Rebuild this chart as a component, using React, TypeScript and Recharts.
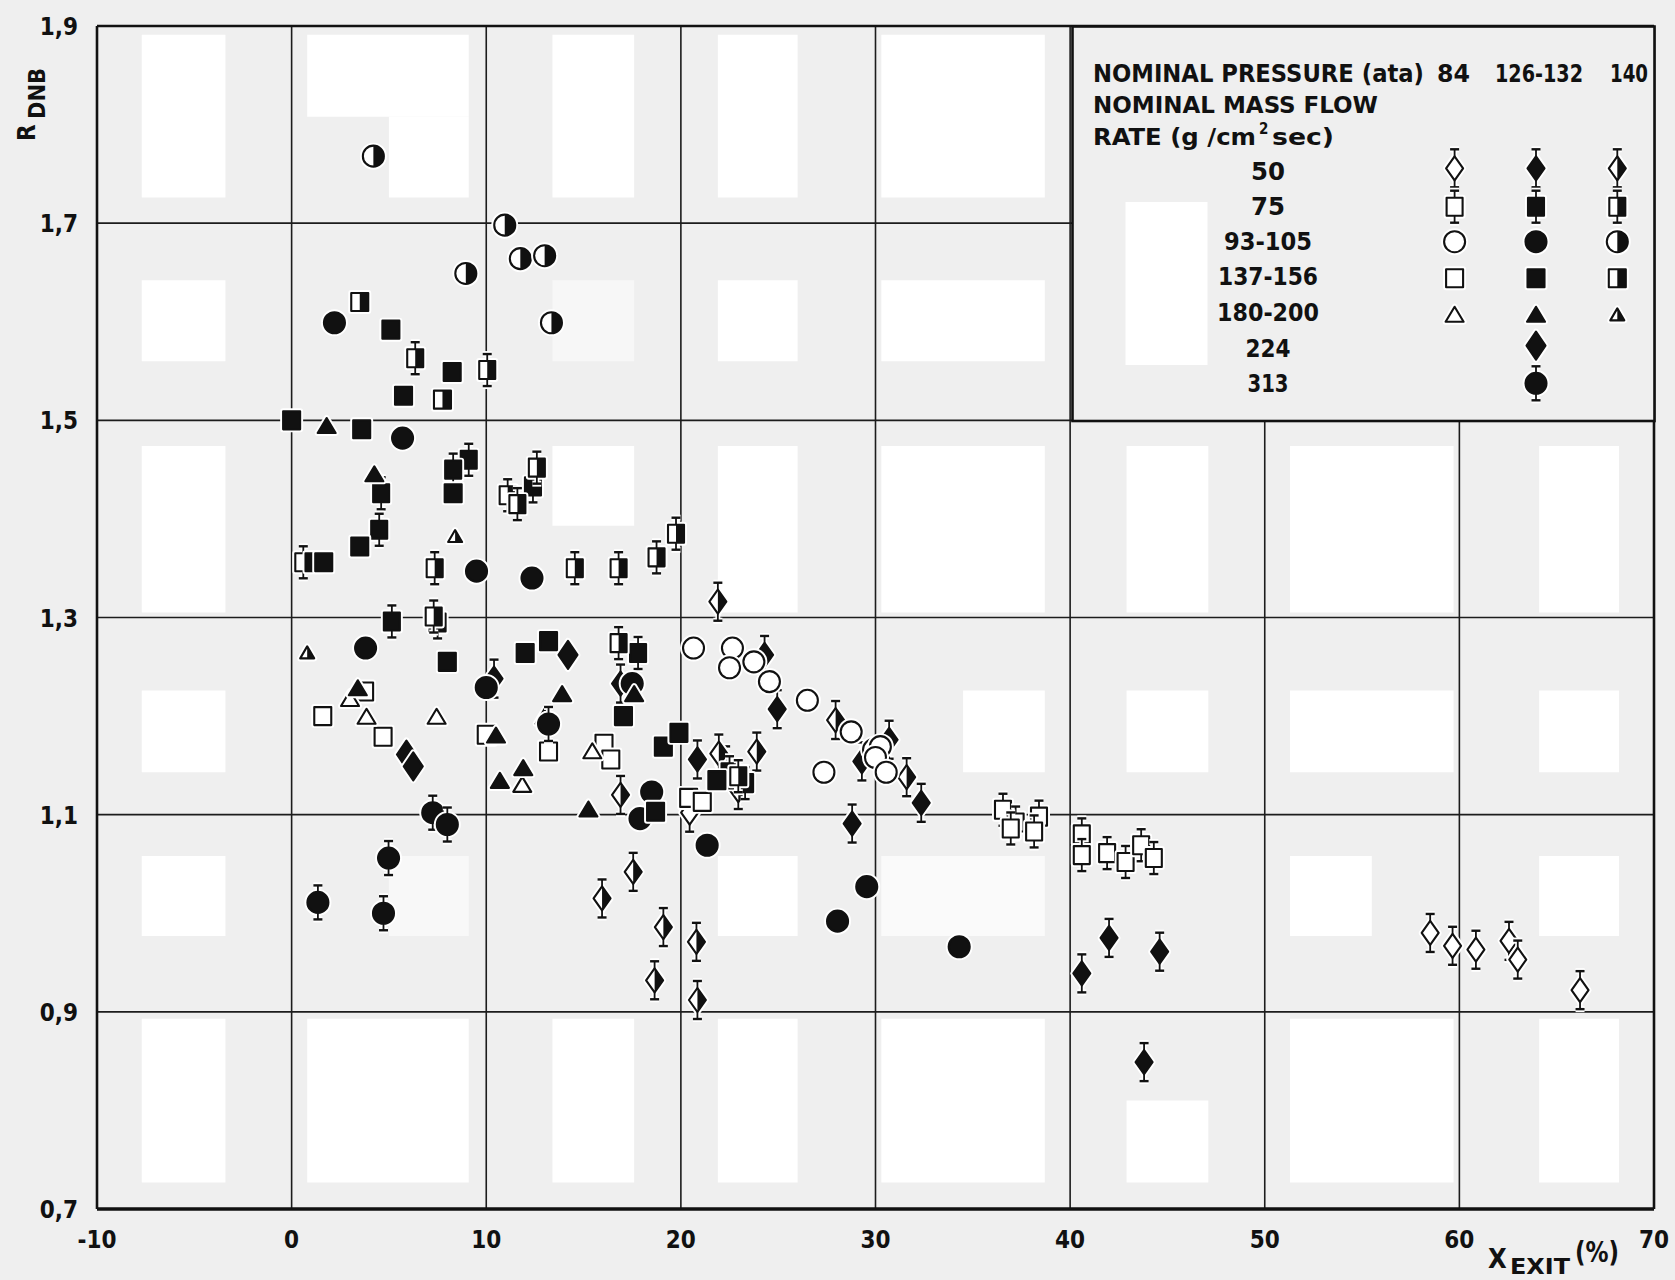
import React from "react"
import { ScatterChart, Scatter, XAxis, YAxis, CartesianGrid, ReferenceArea, ReferenceLine, Legend } from "recharts"

type Pt = [number, number]

// x = exit quality (%), y = R_DNB
const xTicks = [-10, 0, 10, 20, 30, 40, 50, 60, 70]
const yTicks = [0.7, 0.9, 1.1, 1.3, 1.5, 1.7, 1.9]
const pressures = ["84", "126-132", "140"]
const flowRates = ["50", "75", "93-105", "137-156", "180-200", "224", "313"]

const p84_f50: Pt[] = [[20.45, 1.102], [58.5, 0.98], [59.65, 0.967], [60.85, 0.963], [62.55, 0.972], [63.0, 0.953], [66.2, 0.922]]
const p126_f50: Pt[] = [[10.4, 1.238], [16.9, 1.233], [20.85, 1.156], [22.3, 1.15], [24.3, 1.262], [24.95, 1.207], [29.3, 1.154], [30.7, 1.176], [32.35, 1.112], [28.8, 1.091], [40.6, 0.939], [42.0, 0.975], [44.6, 0.961], [43.8, 0.849]]
const p140_f50: Pt[] = [[21.9, 1.316], [27.95, 1.196], [31.6, 1.138], [21.95, 1.162], [23.9, 1.164], [16.9, 1.12], [15.95, 1.015], [17.55, 1.042], [19.1, 0.986], [20.8, 0.971], [18.65, 0.932], [20.85, 0.912], [22.95, 1.125]]

const p84_f75: Pt[] = [[36.55, 1.105], [37.2, 1.092], [36.95, 1.086], [38.4, 1.098], [38.15, 1.083], [40.6, 1.08], [40.6, 1.059], [41.9, 1.061], [42.85, 1.052], [43.65, 1.069], [44.3, 1.056]]
const p126_f75: Pt[] = [[4.6, 1.426], [4.5, 1.389], [9.1, 1.46], [8.3, 1.45], [12.4, 1.433], [5.15, 1.296], [7.5, 1.295], [17.8, 1.264], [22.5, 1.143], [23.3, 1.132]]
const p140_f75: Pt[] = [[6.35, 1.563], [10.05, 1.551], [12.6, 1.452], [11.1, 1.424], [11.6, 1.415], [0.6, 1.356], [7.35, 1.35], [14.55, 1.35], [16.8, 1.35], [18.75, 1.361], [19.75, 1.385], [7.3, 1.301], [16.8, 1.274], [22.95, 1.139]]

const p84_f93: Pt[] = [[20.65, 1.269], [22.65, 1.269], [22.5, 1.249], [23.75, 1.255], [24.55, 1.235], [26.5, 1.216], [28.75, 1.184], [27.35, 1.143], [29.9, 1.166], [30.25, 1.169], [30.0, 1.158], [30.55, 1.143]]
const p126_f93: Pt[] = [[2.2, 1.599], [5.7, 1.482], [9.5, 1.347], [12.35, 1.34], [3.8, 1.269], [10.0, 1.229], [17.5, 1.233], [18.5, 1.123], [17.9, 1.096], [21.35, 1.069], [29.55, 1.027], [28.05, 0.992], [34.3, 0.966]]
const p140_f93: Pt[] = [[4.2, 1.768], [10.95, 1.698], [11.75, 1.664], [13.0, 1.667], [8.95, 1.649], [13.35, 1.599]]

const p84_f137: Pt[] = [[1.6, 1.2], [3.75, 1.225], [4.7, 1.179], [10.0, 1.181], [13.2, 1.164], [16.05, 1.172], [16.4, 1.156], [20.4, 1.117], [21.1, 1.113]]
const p126_f137: Pt[] = [[0.0, 1.5], [3.6, 1.491], [5.1, 1.592], [5.75, 1.525], [8.25, 1.549], [8.3, 1.426], [3.5, 1.372], [1.15, 1.356], [1.65, 1.356], [8.0, 1.255], [12.0, 1.264], [13.2, 1.276], [17.05, 1.2], [18.7, 1.103], [19.1, 1.169], [19.9, 1.183], [21.85, 1.135]]
const p140_f137: Pt[] = [[3.5, 1.62], [7.75, 1.521]]

const p84_f180: Pt[] = [[3.0, 1.217], [3.85, 1.199], [7.45, 1.199], [11.85, 1.13], [15.45, 1.164], [13.0, 1.199]]
const p126_f180: Pt[] = [[1.8, 1.494], [4.25, 1.445], [3.4, 1.228], [13.9, 1.222], [17.6, 1.222], [11.9, 1.147], [10.7, 1.134], [15.25, 1.105], [10.5, 1.18]]
const p140_f180: Pt[] = [[0.8, 1.264], [8.4, 1.382]]

const p126_f224: Pt[] = [[5.9, 1.161], [6.25, 1.149], [14.2, 1.262]]
const p126_f313: Pt[] = [[1.35, 1.011], [4.98, 1.056], [4.72, 1.0], [7.25, 1.102], [8.0, 1.09], [13.2, 1.192]]

// white blotches of the scanned background: [x1, x2, y1, y2, fill]
const bgPatches: [number, number, number, number, string][] = [
  [-7.7, -3.4, 1.726, 1.891, "#fff"], [0.8, 9.1, 1.808, 1.891, "#fff"], [5.0, 9.1, 1.726, 1.808, "#fff"],
  [13.4, 17.6, 1.726, 1.891, "#fff"], [21.9, 26.0, 1.726, 1.891, "#fff"], [30.3, 38.7, 1.726, 1.891, "#fff"],
  [-7.7, -3.4, 1.56, 1.642, "#fff"], [13.4, 17.6, 1.56, 1.642, "#f7f7f7"], [21.9, 26.0, 1.56, 1.642, "#fff"], [30.3, 38.7, 1.56, 1.642, "#fff"],
  [-7.7, -3.4, 1.305, 1.474, "#fff"], [13.4, 17.6, 1.393, 1.474, "#fff"], [21.9, 26.0, 1.305, 1.474, "#fff"], [30.3, 38.7, 1.305, 1.474, "#fff"],
  [42.9, 47.1, 1.305, 1.474, "#fff"], [51.3, 59.7, 1.305, 1.474, "#fff"], [64.1, 68.2, 1.305, 1.474, "#fff"],
  [-7.7, -3.4, 1.143, 1.226, "#fff"], [34.5, 38.7, 1.143, 1.226, "#fff"], [42.9, 47.1, 1.143, 1.226, "#fff"], [51.3, 59.7, 1.143, 1.226, "#fff"], [64.1, 68.2, 1.143, 1.226, "#fff"],
  [-7.7, -3.4, 0.977, 1.058, "#fff"], [5.0, 9.1, 0.977, 1.058, "#f8f8f8"], [21.9, 26.0, 0.977, 1.058, "#fff"], [30.3, 38.7, 0.977, 1.058, "#fafafa"], [51.3, 55.5, 0.977, 1.058, "#fff"], [64.1, 68.2, 0.977, 1.058, "#fff"],
  [-7.7, -3.4, 0.727, 0.893, "#fff"], [0.8, 9.1, 0.727, 0.893, "#fff"], [13.4, 17.6, 0.727, 0.893, "#fff"], [21.9, 26.0, 0.727, 0.893, "#fff"],
  [30.3, 38.7, 0.727, 0.893, "#fff"], [42.9, 47.1, 0.727, 0.81, "#fff"], [51.3, 59.7, 0.727, 0.893, "#fff"], [64.1, 68.2, 0.727, 0.893, "#fff"],
]

type Kind = "diamond" | "bigDiamond" | "square" | "errSquare" | "circle" | "triangle" | "smallTriangle"
type Fill = "open" | "filled" | "half"

interface SeriesDef { flow: string; pressure: string; data: Pt[]; kind: Kind; fill: Fill; err: boolean }

const series: SeriesDef[] = [
  { flow: "50", pressure: "84", data: p84_f50, kind: "diamond", fill: "open", err: true },
  { flow: "50", pressure: "126-132", data: p126_f50, kind: "diamond", fill: "filled", err: true },
  { flow: "50", pressure: "140", data: p140_f50, kind: "diamond", fill: "half", err: true },
  { flow: "75", pressure: "84", data: p84_f75, kind: "errSquare", fill: "open", err: true },
  { flow: "75", pressure: "126-132", data: p126_f75, kind: "errSquare", fill: "filled", err: true },
  { flow: "75", pressure: "140", data: p140_f75, kind: "errSquare", fill: "half", err: true },
  { flow: "93-105", pressure: "84", data: p84_f93, kind: "circle", fill: "open", err: false },
  { flow: "93-105", pressure: "126-132", data: p126_f93, kind: "circle", fill: "filled", err: false },
  { flow: "93-105", pressure: "140", data: p140_f93, kind: "circle", fill: "half", err: false },
  { flow: "137-156", pressure: "84", data: p84_f137, kind: "square", fill: "open", err: false },
  { flow: "137-156", pressure: "126-132", data: p126_f137, kind: "square", fill: "filled", err: false },
  { flow: "137-156", pressure: "140", data: p140_f137, kind: "square", fill: "half", err: false },
  { flow: "180-200", pressure: "84", data: p84_f180, kind: "triangle", fill: "open", err: false },
  { flow: "180-200", pressure: "126-132", data: p126_f180, kind: "triangle", fill: "filled", err: false },
  { flow: "180-200", pressure: "140", data: p140_f180, kind: "smallTriangle", fill: "half", err: false },
  { flow: "224", pressure: "126-132", data: p126_f224, kind: "bigDiamond", fill: "filled", err: false },
  { flow: "313", pressure: "126-132", data: p126_f313, kind: "circle", fill: "filled", err: true },
]

const pts = (a: Pt[]) => a.map(([x, y]) => ({ x, y }))
const INK = "#111"
const BG = "#efefef"
const FONT = "'DejaVu Sans Condensed', 'DejaVu Sans', sans-serif"

function paths(kind: Kind, cx: number, cy: number) {
  if (kind === "diamond" || kind === "bigDiamond") {
    const w = kind === "diamond" ? 8.5 : 9.5, h = kind === "diamond" ? 12 : 14
    return {
      full: `M${cx},${cy - h}L${cx + w},${cy}L${cx},${cy + h}L${cx - w},${cy}Z`,
      half: `M${cx},${cy - h}L${cx + w},${cy}L${cx},${cy + h}Z`, h, L: 19,
    }
  }
  if (kind === "square" || kind === "errSquare") {
    const w = kind === "square" ? 8.5 : 8, h = 9
    return {
      full: `M${cx - w},${cy - h}H${cx + w}V${cy + h}H${cx - w}Z`,
      half: `M${cx},${cy - h}H${cx + w}V${cy + h}H${cx}Z`, h, L: 16,
    }
  }
  if (kind === "circle") {
    const r = 10.5
    return {
      full: `M${cx - r},${cy}A${r},${r} 0 1 0 ${cx + r},${cy}A${r},${r} 0 1 0 ${cx - r},${cy}Z`,
      half: `M${cx},${cy - r}A${r},${r} 0 0 1 ${cx},${cy + r}Z`, h: r, L: 17,
    }
  }
  const w = kind === "triangle" ? 9 : 7, h = kind === "triangle" ? 15 : 12
  const top = cy - h * 0.55, bot = cy + h * 0.45
  return {
    full: `M${cx},${top}L${cx + w},${bot}L${cx - w},${bot}Z`,
    half: `M${cx},${top}L${cx + w},${bot}L${cx},${bot}Z`, h, L: 0,
  }
}

function Marker({ cx, cy, kind, fill, err }: { cx: number; cy: number; kind: Kind; fill: Fill; err: boolean }) {
  if (cx == null || cy == null || isNaN(cx) || isNaN(cy)) return <g />
  const p = paths(kind, cx, cy)
  const bar = (color: string, w: number, cw: number) => (
    <g stroke={color}>
      <line x1={cx} x2={cx} y1={cy - p.L} y2={cy + p.L} strokeWidth={w} />
      <line x1={cx - 4.5} x2={cx + 4.5} y1={cy - p.L} y2={cy - p.L} strokeWidth={cw} />
      <line x1={cx - 4.5} x2={cx + 4.5} y1={cy + p.L} y2={cy + p.L} strokeWidth={cw} />
    </g>
  )
  return (
    <g>
      {err && bar("#fff", 5, 6)}
      <path d={p.full} fill="#fff" stroke="#fff" strokeWidth={6} strokeLinejoin="round" />
      {err && bar(INK, 1.8, 2.4)}
      <path d={p.full} fill={fill === "filled" ? INK : "#fff"} stroke={INK} strokeWidth={2.1} strokeLinejoin="round" />
      {fill === "half" && <path d={p.half} fill={INK} />}
    </g>
  )
}

const XTick = (props: any) => {
  const { x, y, payload } = props
  return (
    <text x={x} y={y + 31} textAnchor="middle" fontFamily={FONT} fontWeight="bold" fontSize={24} fill={INK}>
      {payload.value}
    </text>
  )
}

const YTick = (props: any) => {
  const { x, y, payload } = props
  return (
    <text x={x - 11} y={y + 9} textAnchor="end" fontFamily={FONT} fontWeight="bold" fontSize={24} fill={INK}>
      {Number(payload.value).toFixed(1).replace(".", ",")}
    </text>
  )
}

const XTitle = () => (
  <g fontFamily={FONT} fontWeight="bold" fill={INK}>
    <text x={1488} y={1268} fontSize={27}>X</text>
    <text x={1510} y={1274} fontSize={22} textLength={60} lengthAdjust="spacingAndGlyphs">EXIT</text>
    <text x={1575} y={1262} fontSize={28} textLength={44} lengthAdjust="spacingAndGlyphs">(%)</text>
  </g>
)

const YTitle = () => (
  <g fontFamily={FONT} fontWeight="bold" fill={INK}>
    <text transform="translate(35,141) rotate(-90)" fontSize={24}>R</text>
    <text transform="translate(45,119) rotate(-90)" fontSize={23} textLength={51} lengthAdjust="spacingAndGlyphs">DNB</text>
  </g>
)

// legend layout (px inside the legend box)
const legCols = [383.6, 465, 546.3]
const legRows = [143.3, 181.7, 216.7, 253.3, 290, 320.7, 358.3]
const legBase = [155, 190, 225, 260, 296, 332, 367]
const legWidths = [34, 34, 88, 100, 102, 45, 41]

const LegendBox = () => (
  <svg width={586} height={398} style={{ display: "block" }}>
    <rect x={1.5} y={1.5} width={582} height={394.5} fill={BG} stroke={INK} strokeWidth={2.6} />
    <rect x={54.5} y={177} width={82} height={163} fill="#fff" />
    <g fontFamily={FONT} fontWeight="bold" fill={INK} fontSize={25}>
      <text x={22} y={57} textLength={331} lengthAdjust="spacingAndGlyphs">NOMINAL PRESSURE (ata)</text>
      <text x={366} y={57} textLength={33} lengthAdjust="spacingAndGlyphs">{pressures[0]}</text>
      <text x={424} y={57} textLength={88} lengthAdjust="spacingAndGlyphs">{pressures[1]}</text>
      <text x={539} y={57} textLength={38} lengthAdjust="spacingAndGlyphs">{pressures[2]}</text>
      <text x={22} y={88} fontSize={23} textLength={285} lengthAdjust="spacingAndGlyphs">NOMINAL MASS FLOW</text>
      <text x={22} y={120} fontSize={23} textLength={163} lengthAdjust="spacingAndGlyphs">RATE (g /cm</text>
      <text x={188} y={109} fontSize={15}>2</text>
      <text x={201} y={120} fontSize={23} textLength={62} lengthAdjust="spacingAndGlyphs">sec)</text>
      {flowRates.map((f, i) => (
        <text key={f} x={197} y={legBase[i]} textAnchor="middle" textLength={legWidths[i]} lengthAdjust="spacingAndGlyphs">{f}</text>
      ))}
    </g>
    {series.map((s, i) => {
      const r = flowRates.indexOf(s.flow)
      const c = pressures.indexOf(s.pressure)
      return <Marker key={i} cx={legCols[c]} cy={legRows[r]} kind={s.kind} fill={s.fill} err={s.err} />
    })}
  </svg>
)

export default function App() {
  return (
    <div style={{ position: "absolute", left: 0, top: 0, width: 1675, height: 1280, background: BG, overflow: "hidden" }}>
      <ScatterChart width={1675} height={1280} margin={{ top: 26, right: 21, bottom: 21, left: 37 }}>
        {bgPatches.map(([x1, x2, y1, y2, f], i) => (
          <ReferenceArea key={"bg" + i} x1={x1} x2={x2} y1={y1} y2={y2} fill={f} fillOpacity={1} stroke="none" ifOverflow="visible" />
        ))}
        <CartesianGrid stroke="#1c1c1c" strokeWidth={1.6} />
        <XAxis type="number" dataKey="x" domain={[-10, 70]} ticks={xTicks} allowDataOverflow interval={0}
          axisLine={{ stroke: INK, strokeWidth: 3.5 }} tickLine={false} tick={<XTick />} height={50}
          label={{ content: () => <XTitle /> }} />
        <YAxis type="number" dataKey="y" domain={[0.7, 1.9]} ticks={yTicks} allowDataOverflow interval={0}
          axisLine={{ stroke: INK, strokeWidth: 2.6 }} tickLine={false} tick={<YTick />} width={60}
          label={{ content: () => <YTitle /> }} />
        <ReferenceLine x={70} stroke={INK} strokeWidth={2.6} />
        <ReferenceLine y={1.9} stroke={INK} strokeWidth={2.6} />
        {series.map((s, i) => (
          <Scatter key={i} name={s.pressure + " / " + s.flow} data={pts(s.data)} isAnimationActive={false}
            shape={(p: any) => <Marker cx={p.cx} cy={p.cy} kind={s.kind} fill={s.fill} err={s.err} />} />
        ))}
        <Legend layout="vertical" align="center" verticalAlign="middle" content={() => <LegendBox />}
          wrapperStyle={{ position: "absolute", left: 1071, top: 25, width: 586, height: 398 }} />
      </ScatterChart>
    </div>
  )
}
